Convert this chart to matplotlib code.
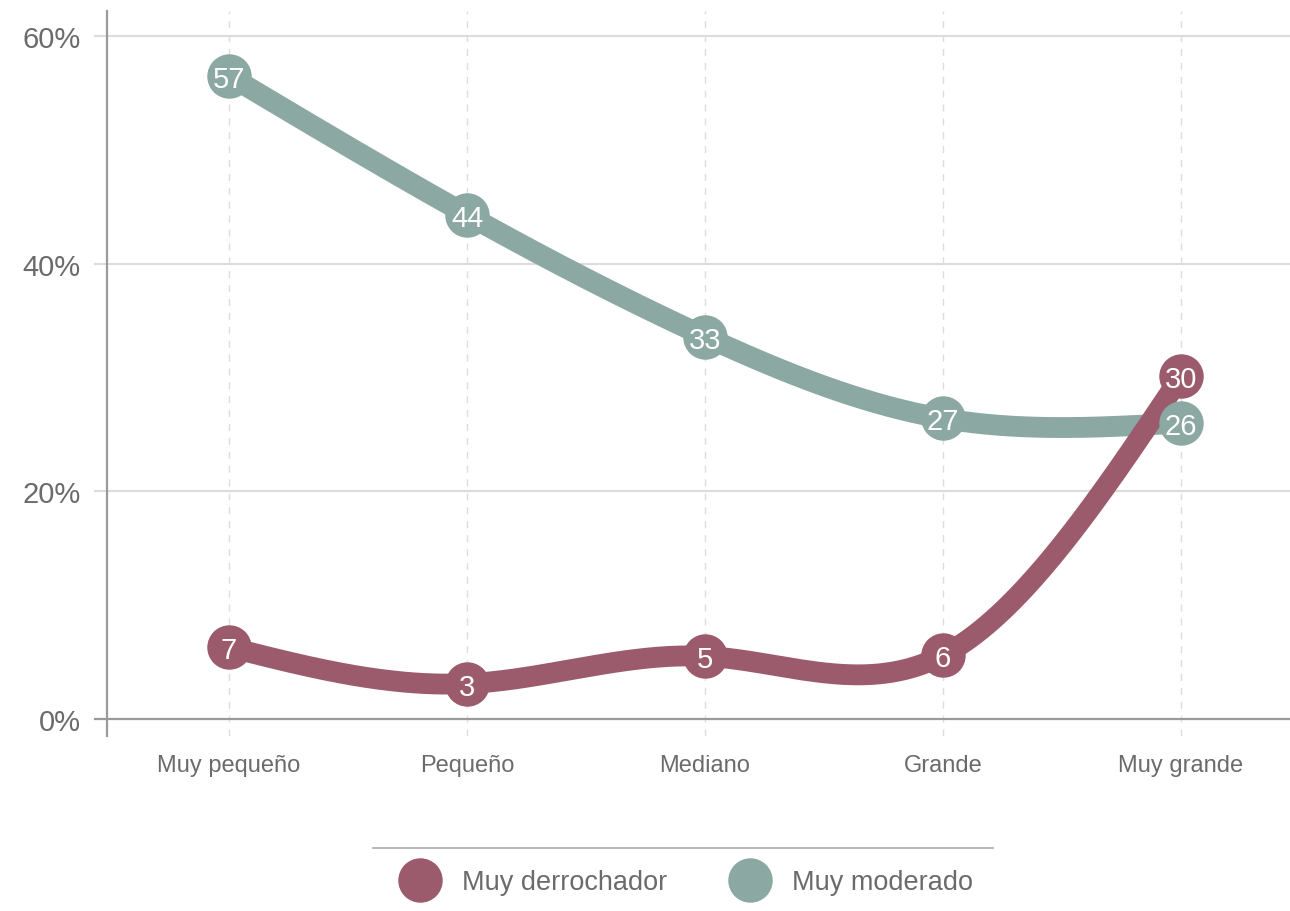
import numpy as np
import matplotlib.pyplot as plt
from matplotlib.lines import Line2D

plt.rcParams['font.family'] = ['Liberation Sans', 'DejaVu Sans']

categories = ["Muy pequeño", "Pequeño", "Mediano", "Grande", "Muy grande"]
derrochador = [6.3, 3.1, 5.5, 5.6, 30.1]
derrochador_labels = ["7", "3", "5", "6", "30"]
moderado = [56.5, 44.3, 33.6, 26.4, 26.0]
moderado_labels = ["57", "44", "33", "27", "26"]
y_ticks = [0, 20, 40, 60]

c_der = "#9b5b6c"
c_mod = "#8ba8a2"
grey_txt = "#6b6b6b"


# natural cubic spline, same idea as d3.curveNatural
def natural_spline(x, y, n=300):
    x = np.asarray(x, float)
    y = np.asarray(y, float)
    m = len(x)
    h = np.diff(x)
    A = np.zeros((m, m))
    b = np.zeros(m)
    A[0, 0] = 1
    A[-1, -1] = 1
    for i in range(1, m - 1):
        A[i, i - 1] = h[i - 1]
        A[i, i] = 2 * (h[i - 1] + h[i])
        A[i, i + 1] = h[i]
        b[i] = 6 * ((y[i + 1] - y[i]) / h[i] - (y[i] - y[i - 1]) / h[i - 1])
    M = np.linalg.solve(A, b)
    xs = np.linspace(x[0], x[-1], n)
    ys = np.empty_like(xs)
    for k, xv in enumerate(xs):
        i = min(np.searchsorted(x, xv, side='right') - 1, m - 2)
        t1 = x[i + 1] - xv
        t0 = xv - x[i]
        ys[k] = (M[i] * t1 ** 3 + M[i + 1] * t0 ** 3) / (6 * h[i]) \
            + (y[i] / h[i] - M[i] * h[i] / 6) * t1 \
            + (y[i + 1] / h[i] - M[i + 1] * h[i] / 6) * t0
    return xs, ys


fig = plt.figure(figsize=(12.9, 9.12), dpi=100)
ax = fig.add_axes([107 / 1290, 175 / 912, 1183 / 1290, 725 / 912])

x = np.arange(len(categories))
ax.set_xlim(-0.513, 4.458)
ax.set_ylim(-1.5, 62.2)

# grid
for v in y_ticks:
    if v == 0:
        ax.axhline(v, xmin=-0.0101, color="#9a9a9a", lw=1.6, clip_on=False, zorder=1)
    else:
        ax.axhline(v, xmin=-0.0101, color="#dcdcdc", lw=1.5, clip_on=False, zorder=0)
for xi in x:
    ax.axvline(xi, color="#dddddd", lw=1, dashes=(5, 5), zorder=0)

for s in ["top", "right", "bottom"]:
    ax.spines[s].set_visible(False)
ax.spines["left"].set_color("#9a9a9a")
ax.spines["left"].set_linewidth(1.6)

ax.set_yticks(y_ticks)
ax.set_yticklabels([f"{v}%" for v in y_ticks])
ax.set_xticks(x)
ax.set_xticklabels(categories)
ax.tick_params(axis="y", length=0, pad=19, labelsize=21, labelcolor=grey_txt)
ax.tick_params(axis="x", length=0, pad=13, labelsize=17, labelcolor=grey_txt)

# lines
xs, ys = natural_spline(x, moderado)
ax.plot(xs, ys, color=c_mod, lw=15, solid_capstyle="round", zorder=2)
xs, ys = natural_spline(x, derrochador)
ax.plot(xs, ys, color=c_der, lw=15, solid_capstyle="round", zorder=3)

# points + labels
for vals, labs, col in [(derrochador, derrochador_labels, c_der), (moderado, moderado_labels, c_mod)]:
    ax.plot(x, vals, "o", color=col, ms=32, mec="none", zorder=4)
    for xi, v, lab in zip(x, vals, labs):
        ax.text(xi, v, lab, color="white", fontsize=21, ha="center", va="center_baseline", zorder=5)

# legend
fig.add_artist(Line2D([373 / 1290, 993 / 1290], [1 - 849 / 912] * 2, color="#aaaaaa", lw=1.2))
handles = [Line2D([], [], ls="none", marker="o", ms=32, color=c_der, mec="none"),
           Line2D([], [], ls="none", marker="o", ms=32, color=c_mod, mec="none")]
fig.legend(handles, ["Muy derrochador", "Muy moderado"], loc="center",
           bbox_to_anchor=(686 / 1290, 1 - 883 / 912), ncol=2, frameon=False,
           fontsize=19.5, labelcolor=grey_txt, handletextpad=0.8, columnspacing=2.3,
           handlelength=1.5)

fig.savefig("out.png", dpi=100)
